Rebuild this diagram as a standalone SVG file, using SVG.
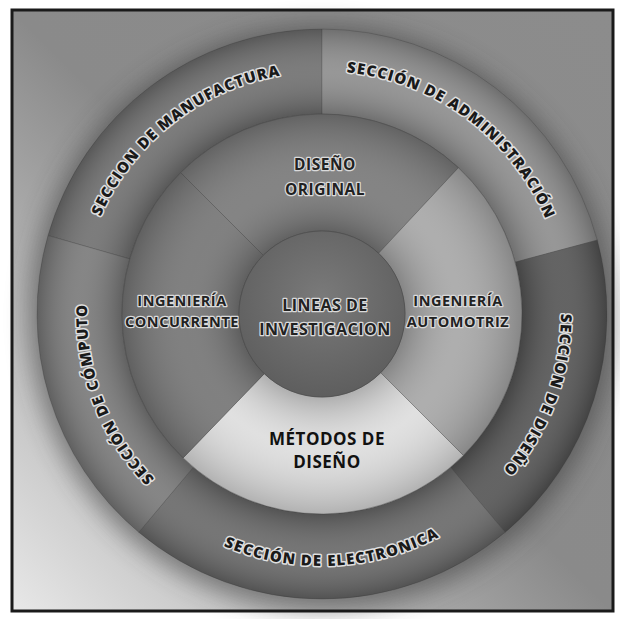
<svg xmlns="http://www.w3.org/2000/svg" width="620" height="619" viewBox="0 0 620 619">
<style>
.arc{font-family:"Open Sans","DejaVu Sans",sans-serif;font-weight:800;font-size:15px;letter-spacing:1.2px;fill:#1a1a1a;stroke:#e0e0e0;stroke-width:3px;paint-order:stroke;stroke-linejoin:round}
.lbl{font-family:"Open Sans","DejaVu Sans",sans-serif;font-weight:700;font-size:15px;letter-spacing:0.5px;fill:#222;stroke:#dadada;stroke-width:2.5px;paint-order:stroke;stroke-linejoin:round;text-anchor:middle}
.dark{fill:#111;stroke:none;font-size:17px}
.seg{stroke:#4a4a4a;stroke-width:0.6;stroke-opacity:0.6}
.shO{fill:url(#ringO)}
.shM{fill:url(#ringM)}
</style>
<defs>
<linearGradient id="bg" x1="1" y1="0" x2="0" y2="1">
<stop offset="0" stop-color="#8c8c8c"/>
<stop offset="0.5" stop-color="#8a8a8a"/>
<stop offset="1" stop-color="#e8e8e8"/>
</linearGradient>
<radialGradient id="ringO" gradientUnits="userSpaceOnUse" cx="322" cy="314" r="285">
<stop offset="0.70" stop-color="#000" stop-opacity="0.22"/>
<stop offset="0.85" stop-color="#fff" stop-opacity="0.08"/>
<stop offset="1" stop-color="#000" stop-opacity="0.22"/>
</radialGradient>
<radialGradient id="ringM" gradientUnits="userSpaceOnUse" cx="322" cy="314" r="200">
<stop offset="0.41" stop-color="#000" stop-opacity="0.22"/>
<stop offset="0.68" stop-color="#fff" stop-opacity="0.06"/>
<stop offset="1" stop-color="#000" stop-opacity="0.2"/>
</radialGradient>
<radialGradient id="core" cx="0.5" cy="0.4" r="0.6">
<stop offset="0" stop-color="#7a7a7a"/>
<stop offset="1" stop-color="#5e5e5e"/>
</radialGradient>
<filter id="blur" x="-20%" y="-20%" width="140%" height="140%"><feGaussianBlur stdDeviation="12"/></filter>
<path id="pManu" d="M83.7,272 A242,242 0 0 1 338.9,72.6"/>
<path id="pAdmin" d="M307.2,71.5 A243,243 0 0 1 558.3,257.3"/>
<path id="pDis" d="M547.3,234.2 A239,239 0 0 1 439.7,522"/>
<path id="pComp" d="M208.1,519.5 A235,235 0 0 1 99.8,237.5"/>
<path id="pElec" d="M168.6,513.9 A252,252 0 0 0 492.2,499.8"/>
<path id="wManu" d="M48,235.5 A285,285 0 0 1 322,29 L322,114 A200,200 0 0 0 129.7,258.9 Z"/>
<path id="wAdmin" d="M322,29 A285,285 0 0 1 597.3,240.2 L515.2,262.2 A200,200 0 0 0 322,114 Z"/>
<path id="wDis" d="M597.3,240.2 A285,285 0 0 1 505.2,532.3 L450.6,467.2 A200,200 0 0 0 515.2,262.2 Z"/>
<path id="wElec" d="M505.2,532.3 A285,285 0 0 1 138.8,532.3 L193.4,467.2 A200,200 0 0 0 450.6,467.2 Z"/>
<path id="wComp" d="M138.8,532.3 A285,285 0 0 1 48,235.5 L129.7,258.9 A200,200 0 0 0 193.4,467.2 Z"/>
<path id="wOrig" d="M180.6,172.6 A200,200 0 0 1 458.4,167.7 L378.6,253.3 A83,83 0 0 0 263.3,255.3 Z"/>
<path id="wAuto" d="M458.4,167.7 A200,200 0 0 1 463.4,455.4 L380.7,372.7 A83,83 0 0 0 378.6,253.3 Z"/>
<path id="wMet" d="M463.4,455.4 A200,200 0 0 1 183.1,457.9 L264.3,373.7 A83,83 0 0 0 380.7,372.7 Z"/>
<path id="wConc" d="M183.1,457.9 A200,200 0 0 1 180.6,172.6 L263.3,255.3 A83,83 0 0 0 264.3,373.7 Z"/>
</defs>
<rect x="0" y="0" width="620" height="619" fill="#fff"/>
<rect x="12" y="10" width="601" height="601" fill="url(#bg)"/>
<circle cx="322" cy="318" r="292" fill="#3a3a3a" opacity="0.55" filter="url(#blur)"/>

<g id="seccion-manufactura">
<use href="#wManu" class="seg" fill="#717171"/><use href="#wManu" class="shO"/>
<text class="arc"><textPath href="#pManu" startOffset="50%" text-anchor="middle">SECCION DE MANUFACTURA</textPath></text>
</g>
<g id="seccion-administracion">
<use href="#wAdmin" class="seg" fill="#8e8e8e"/><use href="#wAdmin" class="shO"/>
<text class="arc"><textPath href="#pAdmin" startOffset="50%" text-anchor="middle">SECCIÓN DE ADMINISTRACIÓN</textPath></text>
</g>
<g id="seccion-diseno">
<use href="#wDis" class="seg" fill="#565656"/><use href="#wDis" class="shO"/>
<text class="arc"><textPath href="#pDis" startOffset="50%" text-anchor="middle">SECCION DE DISEÑO</textPath></text>
</g>
<g id="seccion-electronica">
<use href="#wElec" class="seg" fill="#6a6a6a"/><use href="#wElec" class="shO"/>
<text class="arc"><textPath href="#pElec" startOffset="50%" text-anchor="middle">SECCIÓN DE ELECTRONICA</textPath></text>
</g>
<g id="seccion-computo">
<use href="#wComp" class="seg" fill="#7b7b7b"/><use href="#wComp" class="shO"/>
<text class="arc"><textPath href="#pComp" startOffset="50%" text-anchor="middle">SECCIÓN DE CÓMPUTO</textPath></text>
</g>

<g id="diseno-original">
<use href="#wOrig" class="seg" fill="#7c7c7c"/><use href="#wOrig" class="shM"/>
<text class="lbl" x="325" y="170" style="font-size:15.5px">DISEÑO</text>
<text class="lbl" x="325" y="195" style="font-size:15.5px">ORIGINAL</text>
</g>
<g id="ingenieria-automotriz">
<use href="#wAuto" class="seg" fill="#a9a9a9"/><use href="#wAuto" class="shM"/>
<text class="lbl" x="458" y="306" style="font-size:14.5px">INGENIERÍA</text>
<text class="lbl" x="458" y="327" style="font-size:14.5px">AUTOMOTRIZ</text>
</g>
<g id="metodos-de-diseno">
<use href="#wMet" class="seg" fill="#dedede"/><use href="#wMet" class="shM"/>
<text class="lbl dark" x="327" y="445">MÉTODOS DE</text>
<text class="lbl dark" x="327" y="468">DISEÑO</text>
</g>
<g id="ingenieria-concurrente">
<use href="#wConc" class="seg" fill="#787878"/><use href="#wConc" class="shM"/>
<text class="lbl" x="182" y="306" style="font-size:14.5px">INGENIERÍA</text>
<text class="lbl" x="182" y="327" style="font-size:14.5px">CONCURRENTE</text>
</g>

<g id="lineas-de-investigacion">
<circle cx="322" cy="314" r="83" fill="url(#core)" stroke="#4a4a4a" stroke-width="0.6"/>
<text class="lbl" x="325" y="311" style="font-size:16px">LINEAS DE</text>
<text class="lbl" x="325" y="335" style="font-size:16px">INVESTIGACION</text>
</g>
<rect x="12" y="10" width="601" height="601" fill="none" stroke="#1a1a1a" stroke-width="3"/>
</svg>
